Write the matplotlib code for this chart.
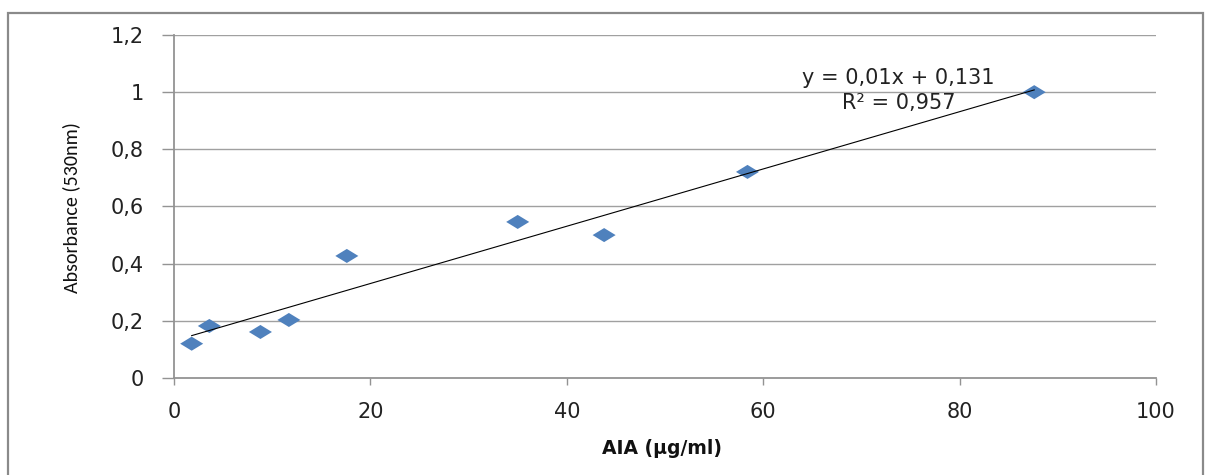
import numpy as np
import matplotlib
matplotlib.use("Agg")
import matplotlib.pyplot as plt
from matplotlib.path import Path
from matplotlib.patches import Rectangle

# Data
aia_conc = [1.8, 3.6, 8.8, 11.7, 17.6, 35.0, 43.8, 58.4, 87.6]
absorbance = [0.12, 0.182, 0.161, 0.203, 0.427, 0.546, 0.50, 0.721, 1.0]
x_ticks = [0, 20, 40, 60, 80, 100]
y_ticks = [0, 0.2, 0.4, 0.6, 0.8, 1.0, 1.2]
y_tick_labels = ["0", "0,2", "0,4", "0,6", "0,8", "1", "1,2"]
equation_text = "y = 0,01x + 0,131"
r2_text = "R² = 0,957"

fig = plt.figure(figsize=(12.13, 4.75), dpi=100)
ax = fig.add_axes([174/1213, 1-378/475, (1156-174)/1213, (378-35)/475])

# outer chart border
fig.patches.append(Rectangle((8/1213, -0.05), (1203-8)/1213, 1.05 - 13/475,
                             transform=fig.transFigure, fill=False,
                             edgecolor="#8a8a8a", linewidth=1.6))
fig.patches.append(Rectangle((7.5/1213, -0.05), 1.5/1213, 1.05 - 13/475,
                             transform=fig.transFigure, fill=True,
                             facecolor="#8a8a8a", edgecolor="none"))

# diamond marker wider than tall
diamond = Path([(-1, 0), (0, 0.61), (1, 0), (0, -0.61), (-1, 0)],
               [Path.MOVETO, Path.LINETO, Path.LINETO, Path.LINETO, Path.CLOSEPOLY])

ax.set_xlim(0, 100)
ax.set_ylim(0, 1.2)
ax.set_yticks(y_ticks)
ax.set_yticklabels(y_tick_labels)
ax.set_xticks(x_ticks)

grid_c = "#a0a0a0"
axis_c = "#939393"
for yv in y_ticks[1:]:
    ax.axhline(yv, color=grid_c, linewidth=1.0, zorder=1)

ax.scatter(aia_conc, absorbance, marker=diamond, s=275, color="#4f81bd",
           edgecolors="none", zorder=3)

# linear trend line
coef = np.polyfit(aia_conc, absorbance, 1)
xs = np.array([min(aia_conc), max(aia_conc)])
ax.plot(xs, np.polyval(coef, xs), color="black", linewidth=0.8, zorder=4)

for s in ["top", "right"]:
    ax.spines[s].set_visible(False)
for s in ["left", "bottom"]:
    ax.spines[s].set_color(axis_c)
    ax.spines[s].set_linewidth(1.3)

ax.tick_params(axis="y", direction="out", length=9, color=axis_c, width=1.0,
               labelsize=15, pad=13, labelcolor="#222222")
ax.tick_params(axis="x", direction="out", length=5, color=axis_c, width=1.0,
               labelsize=15, pad=12, labelcolor="#222222")

ax.set_ylabel("Absorbance (530nm)", fontsize=14.5, family="Carlito",
              color="#111111")
ax.yaxis.set_label_coords(-0.096, 0.497)
ax.set_xlabel("AIA (µg/ml)", fontsize=13.5, fontweight="bold", color="#111111")
ax.xaxis.set_label_coords(0.497, -0.178)

ax.text(73.8, 1.050, equation_text, fontsize=15, color="#222222",
        ha="center", va="center")
ax.text(73.8, 0.962, r2_text, fontsize=15, color="#222222",
        ha="center", va="center")

fig.savefig("out.png", dpi=100)
